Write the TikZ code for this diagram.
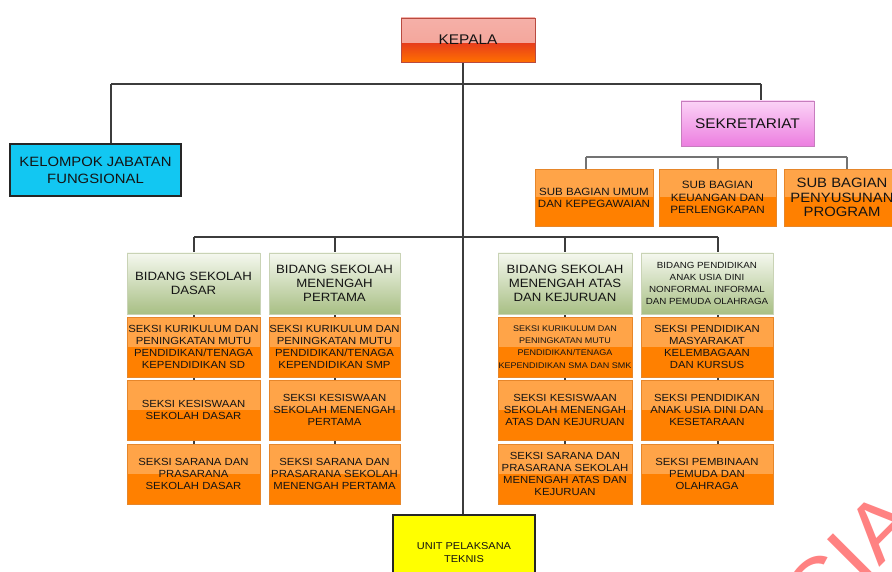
\documentclass[tikz,border=0pt]{standalone}
\usepackage{fontspec}
\setmainfont{Liberation Sans}[FakeStretch=1.1]
\usetikzlibrary{backgrounds}
\definecolor{otop}{HTML}{FFA448}
\definecolor{obot}{HTML}{FF8000}
\definecolor{oline}{HTML}{E6862A}
\definecolor{gtop}{HTML}{F5F8EF}
\definecolor{gbot}{HTML}{A8BF84}
\definecolor{gline}{HTML}{C9D3B5}
\definecolor{ktop}{HTML}{F5B0A8}
\definecolor{kmid}{HTML}{E8401A}
\definecolor{kbot}{HTML}{FF7000}
\definecolor{kline}{HTML}{B84A40}
\definecolor{stop}{HTML}{FBD3F6}
\definecolor{sbot}{HTML}{EC7EE0}
\definecolor{sline}{HTML}{C77DBE}
\definecolor{cyanfill}{HTML}{12C7F2}
\definecolor{yel}{HTML}{FFFF00}
\definecolor{wm}{HTML}{FF8282}
\definecolor{conn}{HTML}{3C3C3C}
\definecolor{txt}{HTML}{141414}
\tikzset{
  box/.style={rectangle, inner sep=0pt, align=center, text=txt},
  obox/.style={box, draw=oline, line width=0.8pt, fill=obot,
    path picture={\fill[otop] (path picture bounding box.north west) rectangle (path picture bounding box.east);}},
  gbox/.style={box, draw=gline, line width=0.8pt, top color=gtop, bottom color=gbot},
  kbox/.style={box, draw=kline, line width=0.8pt, fill=kbot,
    path picture={\shade[top color=ktop, bottom color=ktop!85!kmid] (path picture bounding box.north west) rectangle ([yshift=-4pt]path picture bounding box.east);
                  \shade[top color=kmid, bottom color=kbot] ([yshift=-4pt]path picture bounding box.west) rectangle (path picture bounding box.south east);}},
  sbox/.style={box, draw=sline, line width=0.8pt, top color=stop, bottom color=sbot},
  cbox/.style={box, draw=black!85, line width=1.1pt, fill=cyanfill},
  ybox/.style={box, draw=black!85, line width=1.1pt, fill=yel},
  conline/.style={draw=conn, line width=1.2pt},
  ofont/.style={font=\fontsize{10.3}{12.3}\selectfont},
  gfont/.style={font=\fontsize{12}{14}\selectfont},
}
\begin{document}
\begin{tikzpicture}[x=1pt,y=-1pt]
\useasboundingbox (0,0) rectangle (892,572);
% top level
\node[kbox, minimum width=134pt, minimum height=44pt, font=\fontsize{14}{16}\selectfont] (kepala) at (468,40) {KEPALA};
\node[cbox, minimum width=171pt, minimum height=52pt, font=\fontsize{13.5}{17}\selectfont] (kel) at (95.5,170) {KELOMPOK JABATAN\\FUNGSIONAL};
\node[sbox, minimum width=133pt, minimum height=45pt, font=\fontsize{14}{16}\selectfont] (sek) at (747.5,123.5) {SEKRETARIAT};
% sekretariat subs
\node[obox, minimum width=118pt, minimum height=57pt, font=\fontsize{10.5}{12}\selectfont] (umum) at (594,197.5) {SUB BAGIAN UMUM\\DAN KEPEGAWAIAN};
\node[obox, minimum width=117pt, minimum height=57pt, font=\fontsize{10.6}{12.5}\selectfont] (keu) at (717.5,197.5) {SUB BAGIAN\\KEUANGAN DAN\\PERLENGKAPAN};
\node[obox, minimum width=116pt, minimum height=57pt, font=\fontsize{13.5}{14.8}\selectfont] (pny) at (842,197.5) {SUB BAGIAN\\PENYUSUNAN\\PROGRAM};
% column SD
\node[gbox, gfont, minimum width=133pt, minimum height=61pt] (sdg) at (193.5,283.5) {BIDANG SEKOLAH\\DASAR};
\node[obox, ofont, minimum width=133pt, minimum height=60pt] (sd1) at (193.5,347) {SEKSI KURIKULUM DAN\\PENINGKATAN MUTU\\PENDIDIKAN/TENAGA\\KEPENDIDIKAN SD};
\node[obox, ofont, minimum width=133pt, minimum height=60pt] (sd2) at (193.5,410) {SEKSI KESISWAAN\\SEKOLAH DASAR};
\node[obox, ofont, minimum width=133pt, minimum height=60pt] (sd3) at (193.5,474) {SEKSI SARANA DAN\\PRASARANA\\SEKOLAH DASAR};
% column SMP
\node[gbox, gfont, minimum width=131pt, minimum height=61pt] (smpg) at (334.5,283.5) {BIDANG SEKOLAH\\MENENGAH\\PERTAMA};
\node[obox, ofont, minimum width=131pt, minimum height=60pt] (smp1) at (334.5,347) {SEKSI KURIKULUM DAN\\PENINGKATAN MUTU\\PENDIDIKAN/TENAGA\\KEPENDIDIKAN SMP};
\node[obox, ofont, minimum width=131pt, minimum height=60pt] (smp2) at (334.5,410) {SEKSI KESISWAAN\\SEKOLAH MENENGAH\\PERTAMA};
\node[obox, ofont, minimum width=131pt, minimum height=60pt] (smp3) at (334.5,474) {SEKSI SARANA DAN\\PRASARANA SEKOLAH\\MENENGAH PERTAMA};
% column SMA
\node[gbox, gfont, minimum width=134pt, minimum height=61pt] (smag) at (565,283.5) {BIDANG SEKOLAH\\MENENGAH ATAS\\DAN KEJURUAN};
\node[obox, font=\fontsize{8.2}{12.3}\selectfont, minimum width=134pt, minimum height=60pt] (sma1) at (565,347) {SEKSI KURIKULUM DAN\\PENINGKATAN MUTU\\PENDIDIKAN/TENAGA\\KEPENDIDIKAN SMA DAN SMK};
\node[obox, ofont, minimum width=134pt, minimum height=60pt] (sma2) at (565,410) {SEKSI KESISWAAN\\SEKOLAH MENENGAH\\ATAS DAN KEJURUAN};
\node[obox, ofont, minimum width=134pt, minimum height=60pt] (sma3) at (565,474) {SEKSI SARANA DAN\\PRASARANA SEKOLAH\\MENENGAH ATAS DAN\\KEJURUAN};
% column PAUD
\node[gbox, font=\fontsize{8.9}{12.2}\selectfont, minimum width=132pt, minimum height=61pt] (pdg) at (707,283.5) {BIDANG PENDIDIKAN\\ANAK USIA DINI\\NONFORMAL INFORMAL\\DAN PEMUDA OLAHRAGA};
\node[obox, ofont, minimum width=132pt, minimum height=60pt] (pd1) at (707,347) {SEKSI PENDIDIKAN\\MASYARAKAT\\KELEMBAGAAN\\DAN KURSUS};
\node[obox, ofont, minimum width=132pt, minimum height=60pt] (pd2) at (707,410) {SEKSI PENDIDIKAN\\ANAK USIA DINI DAN\\KESETARAAN};
\node[obox, ofont, minimum width=132pt, minimum height=60pt] (pd3) at (707,474) {SEKSI PEMBINAAN\\PEMUDA DAN\\OLAHRAGA};
% unit
\node[ybox, minimum width=142pt, minimum height=75pt, font=\fontsize{10}{13}\selectfont] (unit) at (464,552.5) {UNIT PELAKSANA\\TEKNIS};
% watermark
\node[rotate=45, anchor=base, text=wm, inner sep=0pt, font=\fontsize{82}{82}\selectfont] (wmk) at (869,578) {CIA};
% connectors
\begin{pgfonlayer}{background}
\fill[white] (0,0) rectangle (892,572);
\coordinate (cx) at (463,0);
\coordinate (b1l) at (111,84);
\coordinate (b1r) at (761,84);
\coordinate (b2l) at (586,157);
\coordinate (b2m) at (718,157);
\coordinate (b2r) at (847,157);
\coordinate (b3a) at (194,237);
\coordinate (b3b) at (335,237);
\coordinate (b3c) at (565,237);
\coordinate (b3d) at (718,237);
\draw[conline] (cx |- kepala.south) -- (cx |- unit.north);
\draw[conline] (b1l) -- (b1r);
\draw[conline] (b1l) -- (b1l |- kel.north);
\draw[conline] (b1r) -- (b1r |- sek.north);
\draw[conline, draw=black!55] (b2l) -- (b2r);
\draw[conline, draw=black!55] (b2l) -- (b2l |- umum.north);
\draw[conline, draw=black!55] (b2m) -- (b2m |- keu.north);
\draw[conline, draw=black!55] (b2r) -- (b2r |- pny.north);
\draw[conline] (b3a) -- (b3d);
\draw[conline] (b3a) -- (b3a |- sd3.south);
\draw[conline] (b3b) -- (b3b |- smp3.south);
\draw[conline] (b3c) -- (b3c |- sma3.south);
\draw[conline] (b3d) -- (b3d |- pd3.south);
\end{pgfonlayer}
\end{tikzpicture}
\end{document}
